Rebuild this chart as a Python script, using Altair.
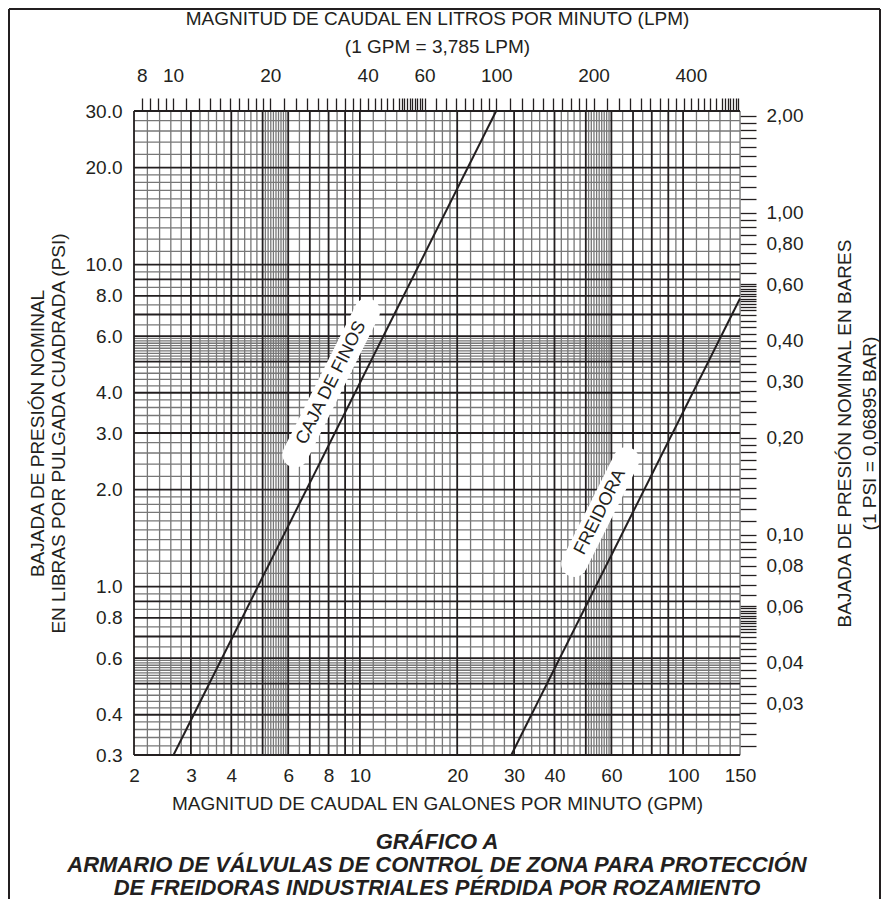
import math
import altair as alt
import pandas as pd

FONT = "Liberation Sans"
INK = "#231f20"
GRAY = "#777777"

# ---- data ----
caja_gpm = [2.65, 26.4]
caja_psi = [0.30, 30.0]
freidora_gpm = [29.4, 150.0]
freidora_psi = [0.30, 7.85]

label_text = ["CAJA DE FINOS", "FREIDORA"]
label_gpm = [8.15, 55.4]
label_psi = [4.29, 1.705]

gpm_domain = [2, 150]
psi_domain = [0.3, 30]
gpm_labels = [2, 3, 4, 6, 8, 10, 20, 30, 40, 60, 100, 150]
psi_labels = [0.3, 0.4, 0.6, 0.8, 1, 2, 3, 4, 6, 8, 10, 20, 30]
lpm_labels = [8, 10, 20, 40, 60, 100, 200, 400]
bar_labels = [2.0, 1.0, 0.8, 0.6, 0.4, 0.3, 0.2, 0.1, 0.08, 0.06, 0.04, 0.03]

GPM_TO_LPM = 3.785
PSI_TO_BAR = 0.06895

major_mant = [1, 2, 3, 4, 5, 6, 7, 8, 9]
minor_mant = [1.1, 1.2, 1.3, 1.4, 1.5, 1.6, 1.7, 1.8, 1.9,
              2.2, 2.4, 2.6, 2.8, 3.2, 3.4, 3.6, 3.8, 4.2, 4.4, 4.6, 4.8,
              5.1, 5.2, 5.3, 5.4, 5.5, 5.6, 5.7, 5.8, 5.9,
              6.5, 7.5, 8.5, 9.5]
decades = [0.01, 0.1, 1, 10, 100, 1000]


def paper(mant, lo, hi):
    out = set()
    for d in decades:
        for m in mant:
            v = round(m * d, 6)
            if lo * (1 - 1e-9) <= v <= hi * (1 + 1e-9):
                out.add(v)
    return sorted(out)


W, H = 606, 644
PAD = {"left": 126, "top": 103, "right": 141, "bottom": 144}

xs = alt.Scale(type="log", domain=gpm_domain, nice=False)
ys = alt.Scale(type="log", domain=psi_domain, nice=False)

lpm_domain = [gpm_domain[0] * GPM_TO_LPM, gpm_domain[1] * GPM_TO_LPM]
bar_domain = [psi_domain[0] * PSI_TO_BAR, psi_domain[1] * PSI_TO_BAR]

x_axis = alt.Axis(
    orient="bottom", values=gpm_labels, format="d", grid=False, ticks=False, domain=False,
    labelFont=FONT, labelFontSize=19, labelColor=INK, labelPadding=11, labelFlush=False,
    labelOverlap=False,
    title="MAGNITUD DE CAUDAL EN GALONES POR MINUTO (GPM)", titleFont=FONT,
    titleFontSize=19, titleFontWeight="normal", titleColor=INK, titlePadding=9)
y_axis = alt.Axis(
    orient="left", values=psi_labels, format=".1f", grid=False, ticks=False, domain=False,
    labelFont=FONT, labelFontSize=19, labelColor=INK, labelPadding=12, labelFlush=False,
    labelOverlap=False,
    title=["BAJADA DE PRESIÓN NOMINAL", "EN LIBRAS POR PULGADA CUADRADA (PSI)"],
    titleFont=FONT, titleFontSize=19, titleFontWeight="normal", titleColor=INK,
    titlePadding=17, titleLineHeight=21)


def X(f):
    return alt.X(f, scale=xs, axis=x_axis)


def Y(f):
    return alt.Y(f, scale=ys, axis=y_axis)


# grid
xmin = pd.DataFrame({"v": paper(minor_mant, *gpm_domain)})
xmaj = pd.DataFrame({"v": paper(major_mant, *gpm_domain)})
ymin = pd.DataFrame({"v": paper(minor_mant, *psi_domain)})
ymaj = pd.DataFrame({"v": paper(major_mant, *psi_domain)})

g1 = alt.Chart(xmin).mark_rule(color=GRAY, strokeWidth=1.3).encode(x=X("v:Q"))
g2 = alt.Chart(ymin).mark_rule(color=GRAY, strokeWidth=1.3).encode(y=Y("v:Q"))
g3 = alt.Chart(xmaj).mark_rule(color=INK, strokeWidth=1.8).encode(x=X("v:Q"))
g4 = alt.Chart(ymaj).mark_rule(color=INK, strokeWidth=1.8).encode(y=Y("v:Q"))

# lines
lines_df = pd.DataFrame({
    "gpm": caja_gpm + freidora_gpm,
    "psi": caja_psi + freidora_psi,
    "serie": ["caja"] * len(caja_gpm) + ["freidora"] * len(freidora_gpm),
})
lines = alt.Chart(lines_df).mark_line(color=INK, strokeWidth=2).encode(
    x=X("gpm:Q"), y=Y("psi:Q"), detail="serie:N")

# label boxes + labels
kx = W / math.log10(gpm_domain[1] / gpm_domain[0])
ky = H / math.log10(psi_domain[1] / psi_domain[0])
slope = math.log10(caja_psi[1] / caja_psi[0]) / math.log10(caja_gpm[1] / caja_gpm[0])
ang = math.atan(slope * ky / kx)
angle_deg = 360 - math.degrees(ang)
half_px = [80, 58]

box_rows = []
for name, gx, py, hl in zip(label_text, label_gpm, label_psi, half_px):
    dx = hl * math.cos(ang) / kx
    dy = hl * math.sin(ang) / ky
    box_rows.append({"name": name, "gpm": gx * 10 ** (-dx), "psi": py * 10 ** (-dy)})
    box_rows.append({"name": name, "gpm": gx * 10 ** dx, "psi": py * 10 ** dy})
box_df = pd.DataFrame(box_rows)

boxes = alt.Chart(box_df).mark_line(color="white", strokeWidth=26, strokeCap="round").encode(
    x=X("gpm:Q"), y=Y("psi:Q"), detail="name:N")

lab_df = pd.DataFrame({"name": label_text, "gpm": label_gpm, "psi": label_psi})
labels = alt.Chart(lab_df).mark_text(
    angle=angle_deg, font=FONT, fontSize=18, color=INK, align="center", baseline="middle"
).encode(x=X("gpm:Q"), y=Y("psi:Q"), text="name:N")

# outer frame of the figure
fr = dict(color=INK, strokeWidth=2)
f_left = alt.Chart().mark_rule(**fr).encode(
    x=alt.value(-PAD["left"] + 1), y=alt.value(-PAD["top"] + 1), y2=alt.value(H + PAD["bottom"]))
f_right = alt.Chart().mark_rule(**fr).encode(
    x=alt.value(W + PAD["right"] - 1), y=alt.value(-PAD["top"] + 1), y2=alt.value(H + PAD["bottom"]))
f_top = alt.Chart().mark_rule(**fr).encode(
    y=alt.value(-PAD["top"] + 1), x=alt.value(-PAD["left"] + 1), x2=alt.value(W + PAD["right"] - 1))

main = alt.layer(g1, g2, g3, g4, lines, boxes, labels, f_left, f_right, f_top)

# secondary axes (LPM top, bar right)
lpm_ticks = paper(major_mant + minor_mant, *lpm_domain)
bar_ticks = paper(major_mant + minor_mant, *bar_domain)
sec_df = pd.DataFrame({"lpm": lpm_domain, "bar": bar_domain})

lpm_expr = "indexof(%s, datum.value) >= 0 ? format(datum.value, 'd') : ''" % str(lpm_labels)
bar_expr = "indexof(%s, datum.value) >= 0 ? replace(format(datum.value, '.2f'), '.', ',') : ''" % str(bar_labels)

sec = alt.Chart(sec_df).mark_point(opacity=0).encode(
    x=alt.X("lpm:Q", scale=alt.Scale(type="log", domain=lpm_domain, nice=False), axis=alt.Axis(
        orient="top", values=lpm_ticks, labelExpr=lpm_expr, grid=False, domain=False,
        ticks=True, tickSize=13, tickColor=INK, tickWidth=1.3,
        labelFont=FONT, labelFontSize=19, labelColor=INK, labelPadding=13, labelFlush=False,
        labelOverlap=False,
        title=["MAGNITUD DE CAUDAL EN LITROS POR MINUTO (LPM)", "(1 GPM = 3,785 LPM)"],
        titleFont=FONT, titleFontSize=19, titleFontWeight="normal", titleColor=INK,
        titlePadding=10, titleLineHeight=28)),
    y=alt.Y("bar:Q", scale=alt.Scale(type="log", domain=bar_domain, nice=False), axis=alt.Axis(
        orient="right", values=bar_ticks, labelExpr=bar_expr, grid=False, domain=False,
        ticks=True, tickSize=16, tickColor=INK, tickWidth=1.3,
        labelFont=FONT, labelFontSize=19, labelColor=INK, labelPadding=10, labelFlush=False,
        labelOverlap=False,
        title=["BAJADA DE PRESIÓN NOMINAL EN BARES", "(1 PSI = 0,06895 BAR)"],
        titleAngle=270, titleFont=FONT, titleFontSize=19, titleFontWeight="normal",
        titleColor=INK, titlePadding=27, titleLineHeight=25)),
)

chart = alt.layer(main, sec).resolve_scale(x="independent", y="independent").properties(
    width=W, height=H,
    autosize=alt.AutoSizeParams(type="none"),
    padding=PAD,
    title=alt.TitleParams(
        text=["GRÁFICO A",
              "ARMARIO DE VÁLVULAS DE CONTROL DE ZONA PARA PROTECCIÓN",
              "DE FREIDORAS INDUSTRIALES PÉRDIDA POR ROZAMIENTO"],
        orient="bottom", anchor="middle", font=FONT, fontSize=22, fontStyle="italic",
        fontWeight="bold", color=INK, lineHeight=23, offset=-68),
).configure_view(stroke=INK, strokeWidth=2).configure(background="white")

chart.save("out.html", embed_options={"renderer": "svg", "actions": False})
